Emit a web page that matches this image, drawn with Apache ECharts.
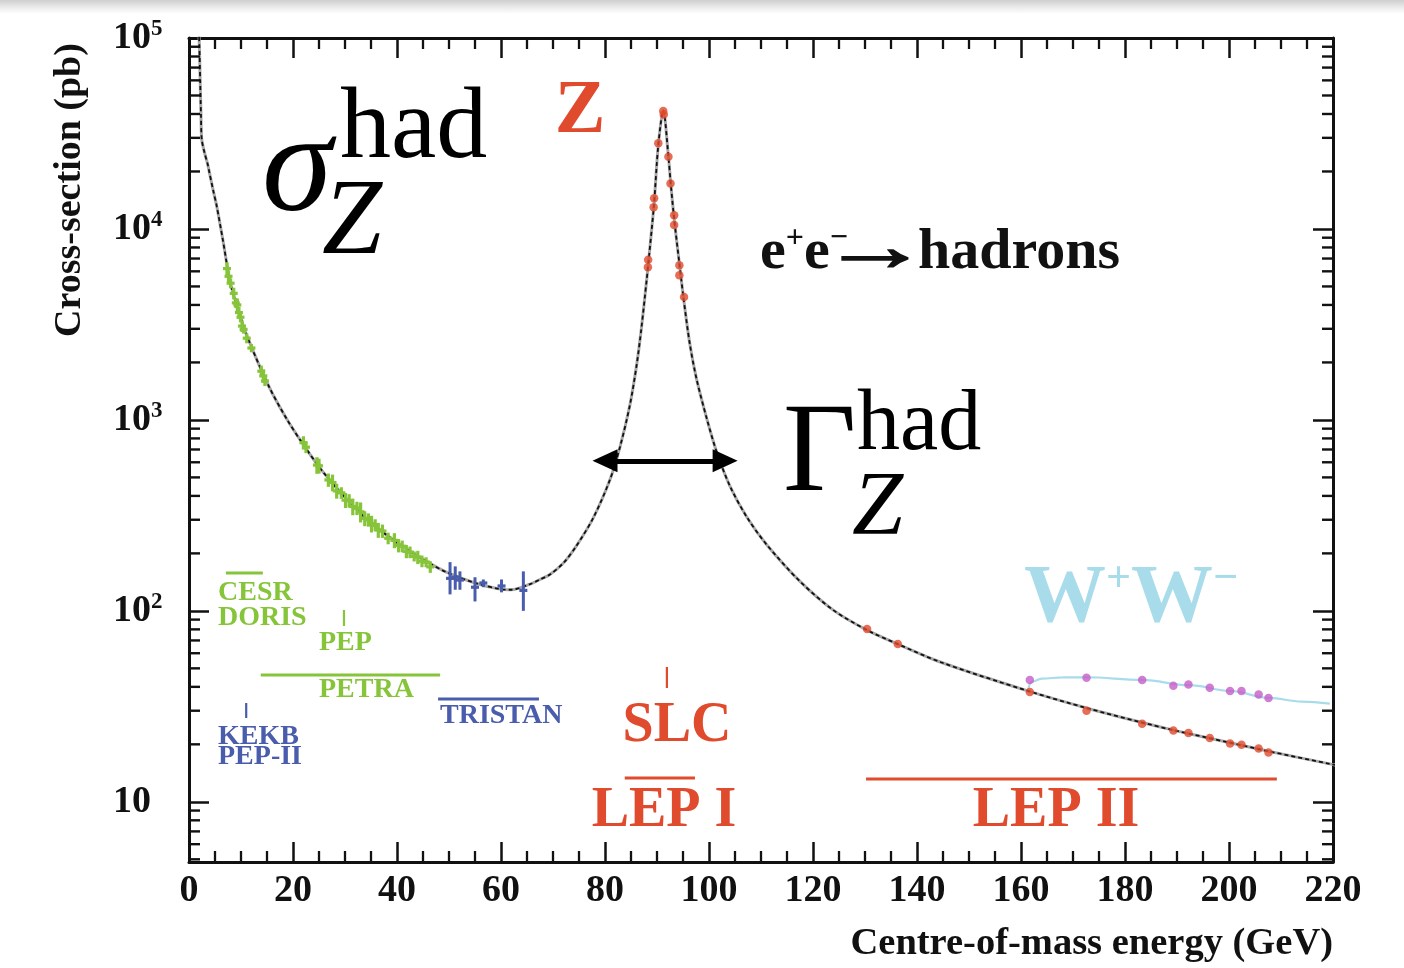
<!DOCTYPE html>
<html>
<head>
<meta charset="utf-8">
<script src="https://cdn.jsdelivr.net/npm/echarts@6/dist/echarts.min.js"></script>
<style>
html,body{margin:0;padding:0;background:#fff;}
#c{width:1404px;height:968px;position:absolute;left:0;top:0;}
#band{position:absolute;left:0;top:0;width:1404px;height:14px;background:linear-gradient(#cfcfcf,#ececec 55%,rgba(255,255,255,0));pointer-events:none;}
</style>
</head>
<body>
<div id="c"></div>
<div id="band"></div>
<script>
// ---------- data ----------
// theory curve e+e- -> hadrons (GeV, pb)
const curveE = [1.9, 2.0, 2.15, 2.3, 2.45, 3.0, 3.6, 3.8, 4.7, 5.3, 6.5, 7.9, 9.2, 11.1, 15.3, 18.8, 22.3, 25.8, 30.3, 34.8, 39.9, 45.0, 49.6, 55.0, 59.8, 62.0, 65.6, 67.5, 69.4, 72.0, 74.5, 77.8, 81.0, 82.9, 84.8, 86.1, 87.0, 88.0, 88.3, 89.4, 90.25, 91.2, 92.2, 92.6, 93.3, 94.3, 95.1, 96.3, 97.6, 99.6, 101.5, 104.0, 107.3, 111.1, 117.5, 123.9, 130.3, 136.2, 144.6, 161.3, 172.6, 183.3, 189.7, 200.2, 207.6, 219.4, 221.0];
const curveSigma = [110000, 90000, 60000, 40000, 29500, 25000, 21800, 20500, 15700, 13300, 8800, 5290, 3980, 2770, 1510, 1010, 721, 533, 385, 292, 229, 186, 159, 140, 130, 129, 138, 146, 155, 178, 219, 309, 490, 724, 1200, 1950, 3020, 5370, 6460, 13200, 27500, 41700, 23900, 17800, 11300, 6600, 4350, 2510, 1640, 1010, 676, 452, 309, 222, 142.6, 100.9, 79.5, 67.2, 53.8, 38.1, 31.0, 26.0, 23.6, 20.4, 18.4, 15.8, 15.5];

// hadrons + W+W- curve
const wwLineE = [161.3, 162.0, 164.0, 168.0, 172.6, 183.3, 192.3, 200.2, 207.6, 214.0, 219.4];
const wwLineSigma = [38.0, 42.5, 44.2, 44.8, 44.9, 43.5, 40.8, 38.1, 35.0, 33.5, 32.7];

// low-energy data (CESR, DORIS, PEP, PETRA)
const greenE = [7.3, 7.6, 8.0, 8.6, 9.0, 9.3, 9.6, 9.9, 10.2, 10.5, 11.1, 12.0, 13.9, 14.3, 14.6, 22.0, 22.5, 24.6, 25.0, 26.8, 27.6, 28.4, 29.3, 30.1, 30.8, 31.5, 32.3, 33.0, 33.8, 34.5, 35.1, 35.8, 36.4, 37.2, 38.3, 39.5, 40.3, 41.0, 41.8, 42.5, 43.3, 44.0, 44.8, 45.6, 46.4];
const greenSigma = [6200, 5650, 5200, 4600, 4100, 4000, 3650, 3450, 3100, 2980, 2680, 2380, 1800, 1700, 1600, 760, 720, 580, 575, 485, 470, 425, 415, 380, 378, 352, 345, 330, 305, 300, 286, 282, 265, 262, 240, 234, 220, 218, 205, 203, 193, 191, 182, 180, 170];
const greenErr = [0.08, 0.07, 0.06, 0.07, 0.06, 0.08, 0.07, 0.06, 0.07, 0.05, 0.06, 0.05, 0.07, 0.08, 0.06, 0.08, 0.07, 0.10, 0.09, 0.08, 0.10, 0.09, 0.07, 0.09, 0.08, 0.10, 0.08, 0.12, 0.09, 0.08, 0.10, 0.07, 0.09, 0.08, 0.07, 0.09, 0.08, 0.07, 0.08, 0.07, 0.06, 0.08, 0.07, 0.06, 0.07];

// TRISTAN data
const blueE = [50.2, 51.2, 52.1, 55.0, 56.6, 60.1, 64.3];
const blueSigma = [148, 150, 145, 133, 140, 135, 128];
const blueLow = [122, 129, 129, 112, 133, 125, 100];
const blueHigh = [180, 171, 161, 150, 146, 146, 161];

// LEP I / SLC Z-peak points
const zPeakE = [88.25, 88.3, 89.35, 89.45, 90.25, 91.2, 91.3, 92.2, 92.6, 93.3, 93.3, 94.3, 94.3, 95.2];
const zPeakSigma = [6300, 6900, 13000, 14500, 28100, 41500, 39800, 23900, 17300, 11800, 10500, 6460, 5720, 4400];

// LEP II hadronic points
const lep2E = [130.4, 136.3, 161.7, 172.6, 183.3, 189.3, 192.2, 196.3, 200.2, 202.4, 205.7, 207.6];
const lep2Sigma = [80.4, 67.0, 37.6, 30.0, 25.6, 23.6, 22.9, 21.6, 20.2, 19.9, 19.0, 18.1];

// hadrons + W+W- points
const wwE = [161.7, 172.6, 183.3, 189.3, 192.2, 196.3, 200.2, 202.4, 205.7, 207.6];
const wwSigma = [43.5, 44.7, 43.5, 40.5, 41.2, 39.6, 38.1, 38.1, 36.5, 35.0];

// accelerator energy ranges [label, Emin, Emax]
const rangeBars = [['CESR', 7.1, 14.2], ['PETRA', 13.8, 48.3], ['TRISTAN', 47.9, 67.3], ['LEP I', 83.8, 97.3], ['LEP II', 130.2, 209.2]];
const rangeTicks = [['PEP', 29.8], ['KEKB', 11.0], ['SLC', 91.9]];

// width arrow of the Z peak (arrow-head centres)
const arrowSpan = [80.0, 103.1];
const arrowLevel = 611;

// axis ticks
const xMin = 0, xMax = 220, xStep = 20;
const yMin = 4.84, yMax = 100000;
const yDecades = [1, 10, 100, 1000, 10000];
const yMinorSteps = [2, 3, 4, 5, 6, 7, 8, 9];
const yMinorBelow = [5, 6, 7, 8, 9];

// ---------- build ----------
const yMinor = yMinorBelow.slice();
yDecades.forEach(d => yMinorSteps.forEach(m => yMinor.push(m * d * 10)));
const yMinorUnique = Array.from(new Set(yMinor)).filter(v => v > yMin && v < yMax);

const zip = (a, b) => a.map((v, i) => [v, b[i]]);
const SERIF = '"Liberation Serif", "DejaVu Serif", serif';
const AXC = '#111';
const GREEN = '#86c43a', BLUE = '#4a5cac', RED = '#e04a2d', CYAN = '#a9dcea', PURPLE = '#c65cc8';

const chart = echarts.init(document.getElementById('c'), null, {renderer: 'canvas'});

function errBarSeries(data, color, capW, w) {
  return {
    type: 'custom', silent: true, clip: true, z: 5,
    encode: {x: 0, y: 1},
    data: data,
    renderItem: function (params, api) {
      const p = api.coord([api.value(0), api.value(1)]);
      const lo = api.coord([api.value(0), api.value(2)]);
      const hi = api.coord([api.value(0), api.value(3)]);
      return {type: 'group', children: [
        {type: 'line', shape: {x1: p[0], y1: lo[1], x2: p[0], y2: hi[1]}, style: {stroke: color, lineWidth: w}},
        {type: 'line', shape: {x1: p[0] - capW, y1: p[1], x2: p[0] + capW, y2: p[1]}, style: {stroke: color, lineWidth: 3.2}}
      ]};
    }
  };
}

const greenData = greenE.map((e, i) => [e, greenSigma[i], greenSigma[i] * (1 - greenErr[i]), greenSigma[i] * (1 + greenErr[i])]);
const blueData = blueE.map((e, i) => [e, blueSigma[i], blueLow[i], blueHigh[i]]);

const tickLine = {show: true, inside: true, length: 20, lineStyle: {color: AXC, width: 2.5}};
const minorX = {show: true, splitNumber: 4, length: 11, lineStyle: {color: AXC, width: 2.3}};
const axLine = {show: true, onZero: false, lineStyle: {color: AXC, width: 3}};

const option = {
  animation: false,
  backgroundColor: '#fff',
  grid: {left: 189, top: 38, right: 71, bottom: 106, containLabel: false},
  xAxis: [
    {type: 'value', min: xMin, max: xMax, interval: xStep, position: 'bottom',
     axisLine: axLine, axisTick: tickLine, minorTick: minorX, splitLine: {show: false},
     axisLabel: {show: true, margin: 10, color: AXC, fontFamily: SERIF, fontWeight: 'bold', fontSize: 38, showMaxLabel: true, showMinLabel: true}},
    {type: 'value', min: xMin, max: xMax, interval: xStep, position: 'top',
     axisLine: axLine, axisTick: tickLine, minorTick: minorX, splitLine: {show: false},
     axisLabel: {show: false}}
  ],
  yAxis: [
    {type: 'log', logBase: 10, min: yMin, max: yMax, position: 'left',
     axisLine: axLine, axisTick: tickLine, splitLine: {show: false}, minorTick: {show: false},
     axisLabel: {show: true, align: 'left', margin: 76, color: AXC,
       formatter: function (v) {
         const l = Math.log10(v), p = Math.round(l);
         if (Math.abs(l - p) > 1e-6) return '';
         return p === 1 ? '{b|10}' : '{b|10}{e|' + p + '}';
       },
       rich: {
         b: {fontFamily: SERIF, fontWeight: 'bold', fontSize: 38, lineHeight: 40, color: AXC},
         e: {fontFamily: SERIF, fontWeight: 'bold', fontSize: 23, lineHeight: 24, verticalAlign: 'top', color: AXC}
       }}},
    {type: 'log', logBase: 10, min: yMin, max: yMax, position: 'right',
     axisLine: axLine, axisTick: tickLine, splitLine: {show: false}, minorTick: {show: false},
     axisLabel: {show: false}}
  ],
  series: [
    {name: 'hadrons+WW', type: 'line', data: zip(wwLineE, wwLineSigma), smooth: 0.4, smoothMonotone: 'x',
     showSymbol: false, silent: true, lineStyle: {color: CYAN, width: 2.2}, z: 2},
    {name: 'theory-under', type: 'line', data: zip(curveE, curveSigma), smooth: 0.3,
     showSymbol: false, silent: true, lineStyle: {color: '#a8a8a8', width: 3}, z: 3},
    {name: 'theory', type: 'line', data: zip(curveE, curveSigma), smooth: 0.3,
     showSymbol: false, silent: true, lineStyle: {color: '#111', width: 1.8, type: [4, 3]}, z: 4,
     markLine: {silent: true, symbol: ['triangle', 'triangle'], symbolSize: [23, 25],
       label: {show: false}, lineStyle: {color: '#000', width: 5, type: 'solid'},
       emphasis: {disabled: true},
       data: [[{coord: [arrowSpan[0], arrowLevel]}, {coord: [arrowSpan[1], arrowLevel]}]]}},
    errBarSeries(greenData, GREEN, 4, 3.2),
    errBarSeries(blueData, BLUE, 4, 3),
    {name: 'LEP', type: 'scatter', data: zip(zPeakE, zPeakSigma).concat(zip(lep2E, lep2Sigma)),
     symbol: 'circle', symbolSize: 8.5, itemStyle: {color: RED}, silent: true, z: 6},
    {name: 'WW', type: 'scatter', data: zip(wwE, wwSigma),
     symbol: 'circle', symbolSize: 8.5, itemStyle: {color: PURPLE}, silent: true, z: 6},
    {name: 'minorY', type: 'custom', silent: true, clip: false, z: 10,
     encode: {x: 0, y: 1},
     data: yMinorUnique.map(v => [xMin, v]),
     renderItem: function (params, api) {
       const v = api.value(1);
       const l = api.coord([xMin, v]);
       const r = api.coord([xMax, v]);
       return {type: 'group', children: [
         {type: 'line', shape: {x1: l[0], y1: l[1], x2: l[0] + 11, y2: l[1]}, style: {stroke: AXC, lineWidth: 2.4}},
         {type: 'line', shape: {x1: r[0] - 11, y1: r[1], x2: r[0], y2: r[1]}, style: {stroke: AXC, lineWidth: 2.4}}
       ]};
     }}
  ],
  graphic: [
    {id: 'ytitle', type: 'text', x: 70, y: 190, rotation: Math.PI / 2,
     style: {text: 'Cross-section (pb)', font: 'bold 38px ' + SERIF, fill: AXC, align: 'center', verticalAlign: 'middle'}},
    {id: 'xtitle', type: 'text', x: 1333, y: 944,
     style: {text: 'Centre-of-mass energy (GeV)', font: 'bold 38.5px ' + SERIF, fill: AXC, align: 'right', verticalAlign: 'middle'}},
    {id: 'zlab', type: 'text', x: 580, y: 112,
     style: {text: 'Z', font: 'bold 76px ' + SERIF, fill: RED, align: 'center', verticalAlign: 'middle'}},
    {id: 'eepart', type: 'text', x: 760, y: 253,
     style: {text: '{b|e}{s|+}{b|e}{s|\u2212}', align: 'left', verticalAlign: 'middle',
       rich: {b: {font: 'bold 58px ' + SERIF, lineHeight: 60, fill: AXC},
              s: {font: 'bold 32px ' + SERIF, lineHeight: 30, verticalAlign: 'top', fill: AXC}}}},
    {id: 'eearrow', type: 'text', x: 875, y: 252, scaleX: 1.7, scaleY: 1.1,
     style: {text: '\u2192', font: 'bold 64px ' + SERIF, fill: AXC, stroke: AXC, lineWidth: 1.6, align: 'center', verticalAlign: 'middle'}},
    {id: 'eehad', type: 'text', x: 918, y: 253,
     style: {text: 'hadrons', font: 'bold 58px ' + SERIF, fill: AXC, align: 'left', verticalAlign: 'middle'}},
    {id: 'ww', type: 'text', x: 1024, y: 600,
     style: {text: '{w|W}{s|+}{w|W}{s|\u2212}', align: 'left', verticalAlign: 'middle',
       rich: {w: {font: 'bold 82px ' + SERIF, lineHeight: 84, fill: CYAN},
              s: {font: 'bold 44px ' + SERIF, lineHeight: 44, verticalAlign: 'top', fill: CYAN}}}},
    {id: 'sig', type: 'text', x: 262, y: 173,
     style: {text: '\u03c3', font: 'italic 142px ' + SERIF, fill: '#000', align: 'left', verticalAlign: 'middle'}},
    {id: 'sighad', type: 'text', x: 340, y: 130,
     style: {text: 'had', font: '102px ' + SERIF, fill: '#000', align: 'left', verticalAlign: 'middle'}},
    {id: 'sigz', type: 'text', x: 322, y: 225,
     style: {text: 'Z', font: 'italic 108px ' + SERIF, fill: '#000', align: 'left', verticalAlign: 'middle'}},
    {id: 'gam', type: 'text', x: 783, y: 457,
     style: {text: '\u0393', font: '127px ' + SERIF, fill: '#000', align: 'left', verticalAlign: 'middle'}},
    {id: 'gamhad', type: 'text', x: 857, y: 426,
     style: {text: 'had', font: '86px ' + SERIF, fill: '#000', align: 'left', verticalAlign: 'middle'}},
    {id: 'gamz', type: 'text', x: 852, y: 510,
     style: {text: 'Z', font: 'italic 92px ' + SERIF, fill: '#000', align: 'left', verticalAlign: 'middle'}},
    {id: 'cesr', type: 'text', x: 218, y: 593, style: {text: 'CESR', font: 'bold 28px ' + SERIF, fill: GREEN, align: 'left', verticalAlign: 'middle'}},
    {id: 'doris', type: 'text', x: 218, y: 618, style: {text: 'DORIS', font: 'bold 28px ' + SERIF, fill: GREEN, align: 'left', verticalAlign: 'middle'}},
    {id: 'pep', type: 'text', x: 319, y: 643, style: {text: 'PEP', font: 'bold 28px ' + SERIF, fill: GREEN, align: 'left', verticalAlign: 'middle'}},
    {id: 'petra', type: 'text', x: 319, y: 690, style: {text: 'PETRA', font: 'bold 28px ' + SERIF, fill: GREEN, align: 'left', verticalAlign: 'middle'}},
    {id: 'tristan', type: 'text', x: 440, y: 716, style: {text: 'TRISTAN', font: 'bold 28px ' + SERIF, fill: BLUE, align: 'left', verticalAlign: 'middle'}},
    {id: 'kekb', type: 'text', x: 218, y: 737, style: {text: 'KEKB', font: 'bold 28px ' + SERIF, fill: BLUE, align: 'left', verticalAlign: 'middle'}},
    {id: 'pep2', type: 'text', x: 218, y: 757, style: {text: 'PEP-II', font: 'bold 28px ' + SERIF, fill: BLUE, align: 'left', verticalAlign: 'middle'}},
    {id: 'slc', type: 'text', x: 677, y: 727, style: {text: 'SLC', font: 'bold 56px ' + SERIF, fill: RED, align: 'center', verticalAlign: 'middle'}},
    {id: 'lep1', type: 'text', x: 664, y: 812, style: {text: 'LEP I', font: 'bold 56px ' + SERIF, fill: RED, align: 'center', verticalAlign: 'middle'}},
    {id: 'lep2', type: 'text', x: 1056, y: 812, style: {text: 'LEP II', font: 'bold 56px ' + SERIF, fill: RED, align: 'center', verticalAlign: 'middle'}}
  ]
};
chart.setOption(option);

// energy-range bars and ticks, placed through the x scale
const barLevels = {'CESR': 573, 'PETRA': 675, 'TRISTAN': 699, 'LEP I': 778, 'LEP II': 779};
const barColors = {'CESR': GREEN, 'PETRA': GREEN, 'TRISTAN': BLUE, 'LEP I': RED, 'LEP II': RED};
const tickSpans = {'PEP': [610, 626], 'KEKB': [703, 718], 'SLC': [667, 688]};
const tickColors = {'PEP': GREEN, 'KEKB': BLUE, 'SLC': RED};
const extra = [];
rangeBars.forEach(function (b) {
  const x1 = chart.convertToPixel({xAxisIndex: 0}, b[1]);
  const x2 = chart.convertToPixel({xAxisIndex: 0}, b[2]);
  const y = barLevels[b[0]];
  extra.push({id: 'bar-' + b[0], type: 'line', shape: {x1: x1, y1: y, x2: x2, y2: y}, style: {stroke: barColors[b[0]], lineWidth: 3}});
});
rangeTicks.forEach(function (t) {
  const x = chart.convertToPixel({xAxisIndex: 0}, t[1]);
  const s = tickSpans[t[0]];
  extra.push({id: 'tick-' + t[0], type: 'line', shape: {x1: x, y1: s[0], x2: x, y2: s[1]}, style: {stroke: tickColors[t[0]], lineWidth: 2.2}});
});
chart.setOption({graphic: extra});
</script>
</body>
</html>
